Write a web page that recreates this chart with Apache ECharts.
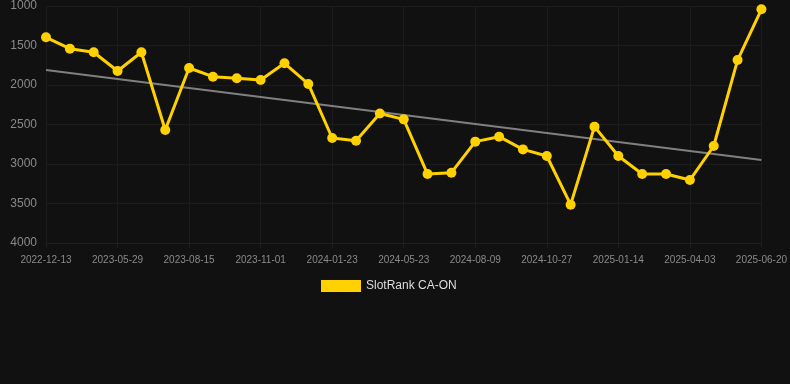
<!DOCTYPE html>
<html>
<head>
<meta charset="utf-8">
<script src="https://cdn.jsdelivr.net/npm/echarts@6/dist/echarts.min.js"></script>
<style>html,body{margin:0;padding:0;background:#111111;}#c{width:790px;height:384px;}</style>
</head>
<body>
<div id="c"></div>
<script>
const categories = ["2022-12-13","2023-02-10","2023-04-05","2023-05-29","2023-06-24","2023-07-20","2023-08-15","2023-09-10","2023-10-06","2023-11-01","2023-11-28","2023-12-26","2024-01-23","2024-03-02","2024-04-12","2024-05-23","2024-06-18","2024-07-14","2024-08-09","2024-09-04","2024-09-30","2024-10-27","2024-11-22","2024-12-18","2025-01-14","2025-02-09","2025-03-07","2025-04-03","2025-04-29","2025-05-25","2025-06-20"];
const rankValues = [1396,1540,1586,1823,1586,2570,1785,1895,1915,1937,1725,1987,2671,2705,2360,2435,3127,3110,2717,2654,2815,2899,3515,2527,2899,3127,3127,3203,2772,1684,1042];
const trendEnds = [1810, 2949];
const yTicks = [1000, 4000, 500];

const chart = echarts.init(document.getElementById('c'));
chart.setOption({
  backgroundColor: '#111111',
  animation: false,
  grid: { left: 46, right: 28, top: 6, bottom: 141 },
  legend: {
    bottom: 87, left: 316,
    itemWidth: 40, itemHeight: 12, itemGap: 10,
    textStyle: { color: '#dddddd', fontSize: 12, fontFamily: 'Liberation Sans, Arial, sans-serif' },
    data: [{ name: 'SlotRank CA-ON', icon: 'rect' }]
  },
  xAxis: {
    type: 'category',
    data: categories,
    boundaryGap: false,
    axisLine: { show: true, lineStyle: { color: '#1f1f1f' } },
    axisTick: { show: true, interval: 2, lineStyle: { color: '#1f1f1f' } },
    axisLabel: { interval: 2, color: '#8a8a8a', fontSize: 10, margin: 12, fontFamily: 'Liberation Sans, Arial, sans-serif' },
    splitLine: { show: true, interval: 2, lineStyle: { color: '#1c1c1c' } }
  },
  yAxis: {
    type: 'value',
    inverse: true,
    min: yTicks[0], max: yTicks[1], interval: yTicks[2],
    axisLine: { show: false },
    axisTick: { show: false },
    axisLabel: { color: '#8a8a8a', fontSize: 12, margin: 9, formatter: v => String(v), fontFamily: 'Liberation Sans, Arial, sans-serif' },
    splitLine: { show: true, lineStyle: { color: '#1c1c1c' } }
  },
  series: [
    {
      name: 'Trend',
      type: 'line',
      data: [[0, trendEnds[0]], [categories.length - 1, trendEnds[1]]],
      symbol: 'none',
      lineStyle: { color: '#808080', width: 2 },
      z: 1,
      silent: true
    },
    {
      name: 'SlotRank CA-ON',
      type: 'line',
      data: rankValues,
      symbol: 'circle',
      symbolSize: 10,
      itemStyle: { color: '#FFD100' },
      lineStyle: { color: '#FFD100', width: 3 },
      z: 2
    }
  ]
});
</script>
</body>
</html>
